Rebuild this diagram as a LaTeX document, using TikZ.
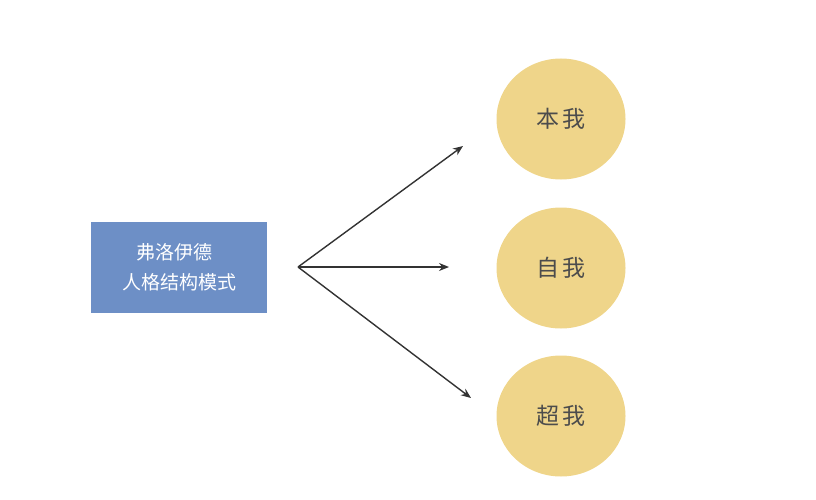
\documentclass[tikz,border=0pt]{standalone}
\usepackage{fontspec}
\newfontfamily\cjk{Noto Sans CJK SC}
\usetikzlibrary{arrows.meta}
\definecolor{boxblue}{HTML}{6D8FC6}
\definecolor{egoyellow}{HTML}{EFD58A}
\definecolor{arrowgray}{HTML}{333333}
\tikzset{
  model/.style={rectangle, fill=boxblue, minimum width=176pt, minimum height=91pt, inner sep=0pt, text=white, font=\cjk\fontsize{19}{30}\selectfont, align=left},
  ego/.style={ellipse, fill=egoyellow, minimum width=129pt, minimum height=121pt, inner sep=0pt, text=black!70, font=\cjk\fontsize{23}{23}\selectfont},
  link/.style={-{Stealth[length=10pt,width=8pt]}, draw=arrowgray, line width=1.4pt}
}
\usetikzlibrary{shapes.geometric}
\begin{document}
\begin{tikzpicture}[x=1pt,y=-1pt]
    \useasboundingbox (0,0) rectangle (816,500);
    % Nodes
    \node[model] at (179, 267.5) (freud) {\hspace*{14pt}弗洛伊德\\人格结构模式};
    \node[ego] at (561, 119) (id) {本\,我};
    \node[ego] at (561, 268) (self) {自\,我};
    \node[ego] at (561, 416) (super) {超\,我};

    \coordinate (fork) at (298, 267);
    \coordinate (toid) at (463, 146);
    \coordinate (toself) at (449, 267);
    \coordinate (tosuper) at (471, 398);

    \draw[link] (fork) -- (toid);
    \draw[link] (fork) -- (toself);
    \draw[link] (fork) -- (tosuper);
\end{tikzpicture}
\end{document}
